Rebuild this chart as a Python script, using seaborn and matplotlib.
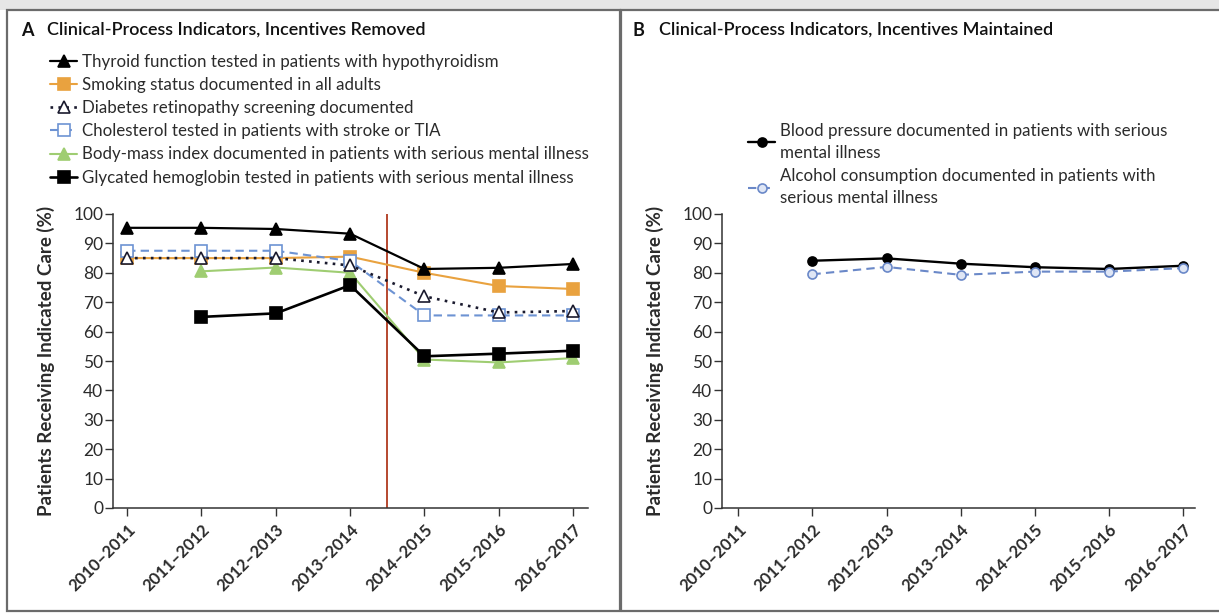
import matplotlib
matplotlib.use("Agg")
import matplotlib.pyplot as plt
from matplotlib.patches import Rectangle
import seaborn as sns
import numpy as np

# data
years = ["2010–2011", "2011–2012", "2012–2013", "2013–2014",
         "2014–2015", "2015–2016", "2016–2017"]
x_pos = np.arange(len(years))

thyroid = [95.3, 95.3, 94.9, 93.3, 81.3, 81.7, 83.0]
smoking = [85.0, 85.0, 85.0, 85.5, 80.0, 75.5, 74.5]
retinopathy = [85.0, 85.0, 85.0, 82.5, 72.0, 66.5, 67.0]
cholesterol = [87.5, 87.5, 87.5, 84.0, 65.5, 65.5, 65.5]
bmi = [np.nan, 80.5, 81.8, 80.0, 50.5, 49.5, 51.0]
hba1c = [np.nan, 65.0, 66.2, 75.8, 51.6, 52.5, 53.5]

blood_pressure = [np.nan, 84.1, 84.9, 83.1, 81.9, 81.3, 82.4]
alcohol = [np.nan, 79.5, 82.0, 79.3, 80.4, 80.4, 81.6]

W, H = 1219, 614
sns.set_style("white")
plt.rcParams['font.family'] = ['Lato', 'DejaVu Sans']
TXT = "#2b2b2b"

fig = plt.figure(figsize=(W / 100, H / 100), dpi=100)


def fx(px):
    return px / W


def fy(py):
    return 1 - py / H


# frame
fig.patches.append(Rectangle((0, fy(10)), 1, 10 / H, transform=fig.transFigure,
                             facecolor="#e6e6e6", edgecolor="none", zorder=-2))
fig.patches.append(Rectangle((fx(7), fy(611)), fx(620 - 7), (611 - 10) / H,
                             transform=fig.transFigure, facecolor="none",
                             edgecolor="#6b6b6b", lw=1.6, zorder=-1))
fig.patches.append(Rectangle((fx(621), fy(611)), fx(1222 - 621), (611 - 10) / H,
                             transform=fig.transFigure, facecolor="none",
                             edgecolor="#6b6b6b", lw=1.6, zorder=-1))

axA = fig.add_axes([fx(113), fy(508), fx(588 - 113), (508 - 214) / H])
axB = fig.add_axes([fx(722), fy(508), fx(1195 - 722), (508 - 214) / H])
for ax in (axA, axB):
    ax.patch.set_alpha(0)


def add_series(ax, vals, label, color, marker, ls, mfc, ms=7, lw=1.5, mew=1.2):
    sns.lineplot(x=x_pos, y=vals, ax=ax, color=color, marker=marker, markersize=ms,
                 markerfacecolor=mfc, markeredgecolor=color, markeredgewidth=mew,
                 linewidth=lw, label=label, clip_on=False)
    ax.lines[-1].set_linestyle(ls)


# panel A
axA.axvline(3.5, color="#b5482f", lw=1.4, zorder=1)
add_series(axA, thyroid, "Thyroid function tested in patients with hypothyroidism",
           "black", "^", "-", "black", ms=8, lw=1.6)
add_series(axA, smoking, "Smoking status documented in all adults",
           "#e9a23f", "s", "-", "#e9a23f", ms=8)
add_series(axA, retinopathy, "Diabetes retinopathy screening documented",
           "#1a1a2e", "^", (0, (1, 2)), "white", ms=8, lw=1.9)
add_series(axA, cholesterol, "Cholesterol tested in patients with stroke or TIA",
           "#6d93d3", "s", (0, (4, 2.5)), "white", ms=8)
add_series(axA, bmi, "Body-mass index documented in patients with serious mental illness",
           "#9fcd72", "^", "-", "#9fcd72", ms=8)
add_series(axA, hba1c, "Glycated hemoglobin tested in patients with serious mental illness",
           "black", "s", "-", "black", ms=8, lw=1.9)

# draw order tweak: open triangles over orange squares
for ln in axA.lines[1:]:
    ln.set_zorder(2)
axA.lines[3].set_zorder(4)
axA.lines[1].set_zorder(3)

# panel B
add_series(axB, blood_pressure, "Blood pressure documented in patients with serious\nmental illness",
           "black", "o", "-", "black", ms=6.5, lw=1.7)
add_series(axB, alcohol, "Alcohol consumption documented in patients with\nserious mental illness",
           "#6a88c8", "o", (0, (4, 2.5)), "#dfe6f5", ms=6.5, lw=1.5)

for ax in (axA, axB):
    ax.set_ylim(0, 100)
    ax.set_yticks(range(0, 101, 10))
    ax.set_xticks(x_pos)
    ax.set_xticklabels(years, rotation=45, ha="right", rotation_mode="anchor",
                       fontsize=12, fontweight="bold", color=TXT)
    ax.tick_params(axis="y", labelsize=12.5, labelcolor=TXT, length=6, width=1,
                   color="#333333", direction="out", left=True, pad=1)
    ax.tick_params(axis="x", length=6, width=1, color="#333333", direction="out",
                   bottom=True, pad=4)
    for s in ("top", "right"):
        ax.spines[s].set_visible(False)
    for s in ("left", "bottom"):
        ax.spines[s].set_color("#333333")
        ax.spines[s].set_linewidth(1.1)
    ax.set_xlabel("")
    ax.set_ylabel("Patients Receiving Indicated Care (%)", fontsize=13.5,
                  fontweight="bold", color=TXT, labelpad=13)

axA.set_xlim(-0.19, 6.2)
axB.set_xlim(-0.22, 6.16)

legA = axA.legend(loc="upper left", bbox_to_anchor=(fx(50), fy(54)),
                  bbox_transform=fig.transFigure, frameon=False, fontsize=12.2,
                  handlelength=1.6, handletextpad=0.3, labelspacing=0.42,
                  borderaxespad=0, borderpad=0)
legB = axB.legend(loc="upper left", bbox_to_anchor=(fx(748), fy(123)),
                  bbox_transform=fig.transFigure, frameon=False, fontsize=12.2,
                  handlelength=1.6, handletextpad=0.3, labelspacing=0.45,
                  borderaxespad=0, borderpad=0)
for leg in (legA, legB):
    for t in leg.get_texts():
        t.set_color(TXT)
for t in legB.get_texts():
    t.set_linespacing(1.45)

fig.text(fx(21), fy(30), "A", fontsize=13, fontweight="bold", va="center", color="#111111")
fig.text(fx(47), fy(30), "Clinical-Process Indicators, Incentives Removed", fontsize=13,
         fontweight="semibold", va="center", color="#111111")
fig.text(fx(633), fy(30), "B", fontsize=13, fontweight="bold", va="center", color="#111111")
fig.text(fx(659), fy(30), "Clinical-Process Indicators, Incentives Maintained", fontsize=13,
         fontweight="semibold", va="center", color="#111111")

fig.savefig("out.png", dpi=100)
